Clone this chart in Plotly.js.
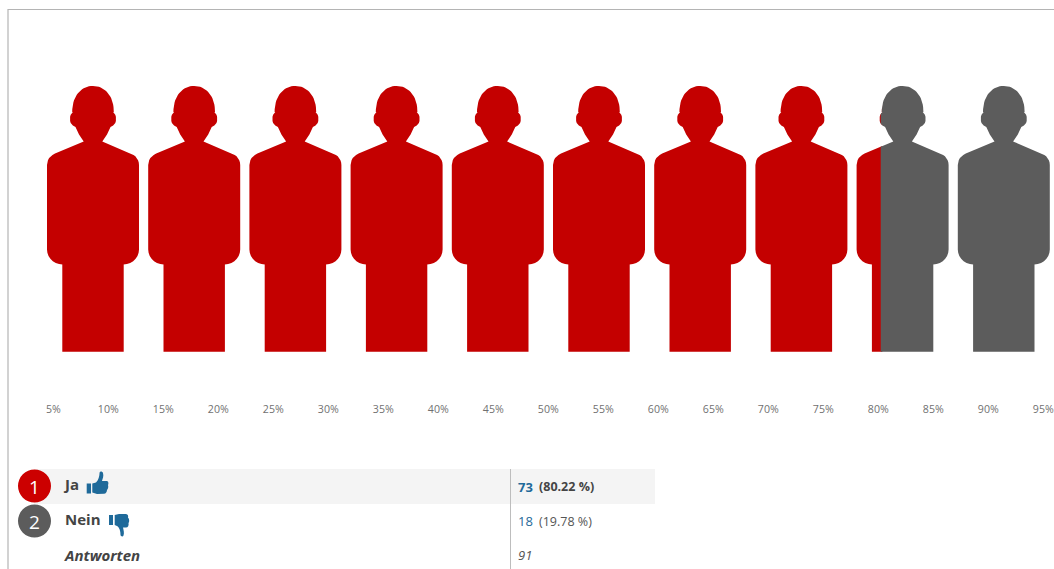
<!DOCTYPE html>
<html>
<head>
<meta charset="utf-8">
<script src="https://cdn.plot.ly/plotly-3.0.1.min.js"></script>
<style>html,body{margin:0;padding:0;background:#fff;overflow:hidden}#chart{width:1054px;height:569px}</style>
</head>
<body>
<div id="chart"></div>
<script>
// ---- data ----
const categories = ['Ja', 'Nein'];
const counts = [73, 18];
const percentLabels = ['80.22 %', '19.78 %'];
const totalLabel = 'Antworten';
const totalCount = 91;
const tickValues = [5,10,15,20,25,30,35,40,45,50,55,60,65,70,75,80,85,90,95];
const figureCount = 10;

// ---- style ----
const W = 1054, H = 569;
const RED = '#c40000', GREY = '#5c5c5c', BLUE = '#1f6a9a', INK = '#444444';
const FONT = '"Open Sans", sans-serif';
const pxPerPct = 11, pctOffsetPx = -1.7;
const firstCenterPx = 93, pitchPx = 101.2;

// silhouette: right half as [dx, y] pixels
function arc(cx, cy, rx, ry, a0, a1, n, exp) {
  const out = [], e = 2 / (exp || 2);
  for (let i = 0; i <= n; i++) {
    const a = (a0 + (a1 - a0) * i / n) * Math.PI / 180;
    const c = Math.cos(a), s = Math.sin(a);
    out.push([cx + rx * Math.sign(c) * Math.pow(Math.abs(c), e), cy - ry * Math.sign(s) * Math.pow(Math.abs(s), e)]);
  }
  return out;
}
const halfOutline = [].concat(
  arc(0, 112, 20.8, 26, 90, 0, 18, 2.15),
  arc(18.6, 118.8, 4.5, 7.2, 70, -70, 8),
  [[17.5, 127], [14, 134.5], [9.3, 141.5], [38, 153.5]],
  arc(36.5, 165, 9.5, 11, 65, 0, 5),
  arc(30.5, 249.5, 15.5, 15, 0, -90, 7),
  [[30.7, 264.5], [30.7, 351.7]]
);
const outline = halfOutline.concat(halfOutline.slice().reverse().map(p => [-p[0], p[1]]));

// keep the part of a polygon on one side of x = limit
function clip(poly, limit, keepLeft) {
  const inside = p => keepLeft ? p[0] <= limit : p[0] >= limit;
  const out = [];
  poly.forEach((p, i) => {
    const q = poly[(i + 1) % poly.length];
    if (inside(p)) out.push(p);
    if (inside(p) !== inside(q)) {
      const t = (limit - p[0]) / (q[0] - p[0]);
      out.push([limit, p[1] + t * (q[1] - p[1])]);
    }
  });
  return out;
}

const total = counts[0] + counts[1];
const splitPct = counts[0] / total * 100;
const redX = [], redY = [], greyX = [], greyY = [];
function addPoly(poly, xs, ys) {
  if (!poly.length) return;
  poly.concat([poly[0]]).forEach(p => { xs.push(p[0]); ys.push(p[1]); });
  xs.push(null); ys.push(null);
}
for (let i = 0; i < figureCount; i++) {
  const c = (firstCenterPx + i * pitchPx - pctOffsetPx) / pxPerPct;
  const poly = outline.map(p => [c + p[0] / pxPerPct, p[1]]);
  addPoly(clip(poly, splitPct + 0.15, true), redX, redY);
  addPoly(clip(poly, splitPct, false), greyX, greyY);
}
const silhouette = (x, y, color, name) => ({
  type: 'scatter', mode: 'lines', x, y, name, fill: 'toself', fillcolor: color,
  line: {width: 0, color}, hoverinfo: 'skip', showlegend: false, connectgaps: false
});
const traces = [silhouette(redX, redY, RED, categories[0]), silhouette(greyX, greyY, GREY, categories[1])];

// page pixel -> paper
const px = x => x / W, py = y => 1 - y / H;
const pathOf = s => {
  let k = 0;
  return s.replace(/-?\d+(\.\d+)?/g, m => (k++ % 2 === 0 ? px(+m) : py(+m)).toFixed(5));
};
const paper = {xref: 'paper', yref: 'paper'};
const rect = (x0, y0, x1, y1, color) => Object.assign({type: 'rect', x0: px(x0), x1: px(x1), y0: py(y0), y1: py(y1), fillcolor: color, line: {width: 0}, layer: 'below'}, paper);
const vline = (x, y0, y1, color, w) => Object.assign({type: 'line', x0: px(x), x1: px(x), y0: py(y0), y1: py(y1), line: {color, width: w}}, paper);
const hline = (y, x0, x1, color, w) => Object.assign({type: 'line', x0: px(x0), x1: px(x1), y0: py(y), y1: py(y), line: {color, width: w}}, paper);
const circle = (cx, cy, r, color) => Object.assign({type: 'circle', x0: px(cx - r), x1: px(cx + r), y0: py(cy - r), y1: py(cy + r), fillcolor: color, line: {width: 0}}, paper);
const glyph = (d, color) => Object.assign({type: 'path', path: pathOf(d), fillcolor: color, line: {width: 0}}, paper);

const shapes = [
  vline(8, 9, 569, '#b4b4b4', 1.2),
  hline(9.5, 8, 1054, '#b4b4b4', 1.2),
  rect(34, 469, 655, 504, '#f4f4f4'),
  vline(510.5, 469, 569, '#bdbdbd', 1),
  circle(34.5, 486, 16.5, '#cc0000'),
  circle(34.5, 521, 16.5, GREY),
  // thumbs
  glyph('M 86.7 483.5 L 91 483.5 L 91 493.5 L 86.7 493.5 Z', BLUE),
  glyph('M 92.3 483.5 L 96 482.5 C 98.5 480 99.5 476 99.6 472.5 C 100 471 102.5 471.3 103 473 C 104 476 102.5 479 102 481 L 106.5 481 C 108.5 481 108.8 483.5 108 485 C 108.6 487 108 489 107 490 C 106.8 492 106 493.7 104 493.8 L 97 494 L 92.3 492.5 Z', BLUE),
  glyph('M 109 515 L 113 515 L 113 525 L 109 525 Z', BLUE),
  glyph('M 114.7 515 L 119 514 L 126 514 C 128 514.3 128.5 516 128 517.5 C 129.5 519 129.5 522 128.5 523 C 129 525.5 128 527.5 126 527.5 L 123 527.5 C 123.5 530 124.5 533 123.5 535.5 C 123 536.8 121 536.8 120.5 535 C 120.5 531 119.5 528 117.5 526.3 L 114.7 525 Z', BLUE)
];

const txt = (x, y, text, size, color, extra) => Object.assign({
  xref: 'paper', yref: 'paper', x: px(x), y: py(y), text, showarrow: false,
  xanchor: 'left', yanchor: 'middle', font: {family: FONT, size, color}
}, extra || {});
const annotations = [
  txt(34.5, 486.5, '1', 19, '#ffffff', {xanchor: 'center'}),
  txt(34.5, 521.5, '2', 19, '#ffffff', {xanchor: 'center'}),
  txt(61, 483.5, '<b>' + categories[0] + '</b>', 15, INK),
  txt(62.5, 519, '<b>' + categories[1] + '</b>', 15, INK),
  txt(62, 555, '<b><i>' + totalLabel + '</i></b>', 15, INK),
  txt(516, 486.5, '<b>' + counts[0] + '</b>', 13, BLUE),
  txt(537, 486.5, '<b>(' + percentLabels[0] + ')</b>', 12.5, INK),
  txt(516, 521, String(counts[1]), 13, BLUE),
  txt(537, 521, '(' + percentLabels[1] + ')', 12.5, '#555555'),
  txt(516, 555, '<i>' + totalCount + '</i>', 13, '#555555')
];

const layout = {
  width: W, height: H, margin: {l: 0, r: 0, t: 0, b: 0, pad: 0},
  paper_bgcolor: '#ffffff', plot_bgcolor: 'rgba(0,0,0,0)', showlegend: false,
  xaxis: {
    range: [(0 - pctOffsetPx) / pxPerPct, (W - pctOffsetPx) / pxPerPct],
    domain: [0, 1], anchor: 'free', position: py(401),
    tickmode: 'array', tickvals: tickValues, ticktext: tickValues.map(v => v + '%'),
    tickangle: 0, ticks: '', ticklen: 0, showgrid: false, zeroline: false, showline: false,
    tickfont: {family: FONT, size: 10.6, color: '#707070'}, fixedrange: true
  },
  yaxis: {range: [H, 0], domain: [0, 1], visible: false, fixedrange: true},
  shapes, annotations
};
Plotly.newPlot('chart', traces, layout, {displayModeBar: false, staticPlot: true});
</script>
</body>
</html>
